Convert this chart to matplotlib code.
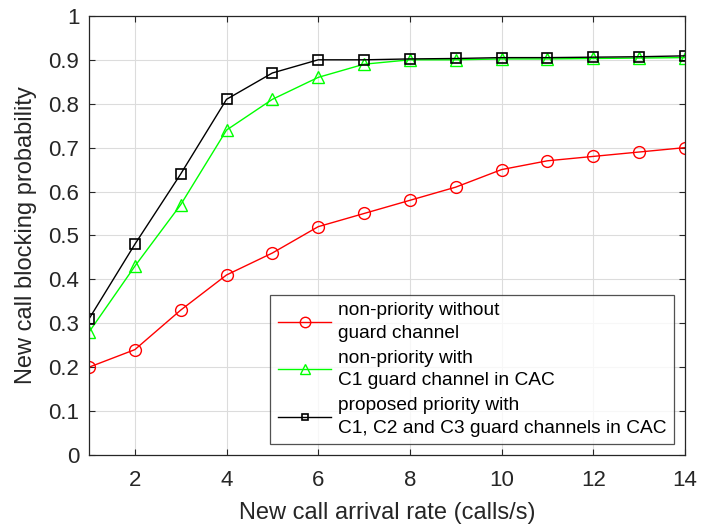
import matplotlib
matplotlib.use("Agg")
import matplotlib.pyplot as plt

plt.rcParams['font.family'] = ['Liberation Sans', 'DejaVu Sans']

arrival_rate = list(range(1, 15))
no_guard = [0.20, 0.24, 0.33, 0.41, 0.46, 0.52, 0.55, 0.58, 0.61, 0.65, 0.67, 0.68, 0.69, 0.70]
c1_guard = [0.28, 0.43, 0.57, 0.74, 0.81, 0.86, 0.89, 0.90, 0.90, 0.902, 0.902, 0.903, 0.904, 0.905]
proposed = [0.31, 0.48, 0.64, 0.81, 0.87, 0.90, 0.90, 0.902, 0.903, 0.905, 0.905, 0.906, 0.907, 0.909]

labels = ["non-priority without\nguard channel",
          "non-priority with\nC1 guard channel in CAC",
          "proposed priority with\nC1, C2 and C3 guard channels in CAC"]

fig = plt.figure(figsize=(7.01, 5.30), dpi=100)
ax = fig.add_axes([0.127, 0.1415, 0.850, 0.8285])

ax.plot(arrival_rate, no_guard, color='#ff0000', marker='o', markersize=8.5,
        markerfacecolor='none', markeredgewidth=1.0, linewidth=1.0, label=labels[0])
ax.plot(arrival_rate, c1_guard, color='#00ff00', marker='^', markersize=9,
        markerfacecolor='none', markeredgewidth=1.0, linewidth=1.0, label=labels[1])
ax.plot(arrival_rate, proposed, color='#000000', marker='s', markersize=6.5,
        markerfacecolor='none', markeredgewidth=1.2, linewidth=1.0, label=labels[2])

ax.set_xlim(1, 14)
ax.set_ylim(0, 1)
ax.set_xticks([2, 4, 6, 8, 10, 12, 14])
ax.set_yticks([i / 10 for i in range(11)])
ax.set_yticklabels(['0', '0.1', '0.2', '0.3', '0.4', '0.5', '0.6', '0.7', '0.8', '0.9', '1'])
ax.grid(True, color='#dcdcdc', linewidth=0.8)
ax.set_axisbelow(True)
ax.tick_params(direction='in', labelsize=16, colors='#262626', length=4,
               top=True, right=True)
ax.tick_params(axis='x', pad=11)
ax.tick_params(axis='y', pad=7)
for s in ax.spines.values():
    s.set_color('#262626')
    s.set_linewidth(0.9)

ax.set_xlabel('New call arrival rate (calls/s)', fontsize=17, color='#262626', labelpad=8)
ax.set_ylabel('New call blocking probability', fontsize=17, color='#262626', labelpad=8)

leg = ax.legend(loc='lower right', fontsize=13.8, frameon=True, fancybox=False,
                edgecolor='#262626', handlelength=2.8, labelspacing=0.42,
                borderaxespad=0.55, handletextpad=0.35, borderpad=0.4)
leg.get_frame().set_linewidth(0.9)
for t in leg.get_texts():
    t.set_linespacing(1.42)
for h, ms in zip(leg.legend_handles, [7.5, 7.5, 4.5]):
    h.set_markersize(ms)

fig.savefig('out.png', dpi=100)
